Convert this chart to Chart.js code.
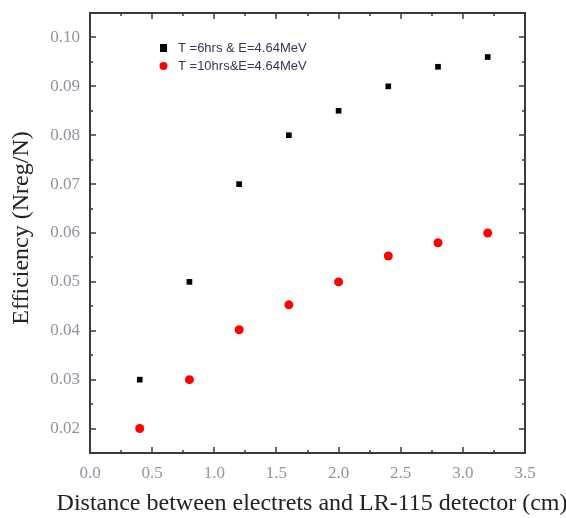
<!DOCTYPE html>
<html>
<head>
<meta charset="utf-8">
<script src="https://cdn.jsdelivr.net/npm/chart.js@4/dist/chart.umd.min.js"></script>
<style>
  html, body { margin: 0; padding: 0; background: #fff; }
  #wrap { width: 566px; height: 518px; }
</style>
</head>
<body>
<div id="wrap"><canvas id="chart" width="566" height="518"></canvas></div>
<script>
// dados
const distancias = [0.4, 0.8, 1.2, 1.6, 2.0, 2.4, 2.8, 3.2];
const efic6h = [0.030, 0.050, 0.070, 0.080, 0.085, 0.090, 0.094, 0.096];
const efic10h = [0.020, 0.030, 0.0402, 0.0453, 0.050, 0.0553, 0.058, 0.060];
const xTicks = [0.0, 0.5, 1.0, 1.5, 2.0, 2.5, 3.0, 3.5];
const yTicks = [0.02, 0.03, 0.04, 0.05, 0.06, 0.07, 0.08, 0.09, 0.10];
const nomes = ['T =6hrs & E=4.64MeV', 'T =10hrs&E=4.64MeV'];
const tituloX = 'Distance between electrets and LR-115 detector (cm)';
const tituloY = 'Efficiency (Nreg/N)';

const toPts = (ys) => distancias.map((x, i) => ({ x: x, y: ys[i] }));
const serif = '"Liberation Serif", "Times New Roman", serif';

// moldura com ticks para dentro (4 lados)
const frame = {
  id: 'frame',
  afterDraw(chart) {
    const { ctx, chartArea: a, scales: { x, y } } = chart;
    ctx.save();
    ctx.strokeStyle = '#3a3a3a';
    ctx.lineWidth = 2;
    ctx.strokeRect(a.left, a.top, a.right - a.left, a.bottom - a.top);
    ctx.lineWidth = 1.5;
    ctx.beginPath();
    for (let v = 0; v <= 3.5001; v += 0.25) {
      const px = Math.round(x.getPixelForValue(v));
      const len = (Math.round(v * 4) % 2 === 0) ? 6 : 3;
      ctx.moveTo(px, a.bottom); ctx.lineTo(px, a.bottom - len);
      ctx.moveTo(px, a.top); ctx.lineTo(px, a.top + len);
    }
    for (let v = 0.015; v <= 0.1051; v += 0.005) {
      const py = Math.round(y.getPixelForValue(v));
      if (py < a.top + 1 || py > a.bottom - 1) continue;
      const major = Math.abs(Math.round(v * 1000) % 10) === 0;
      const len = major ? 6 : 3;
      ctx.moveTo(a.left, py); ctx.lineTo(a.left + len, py);
      ctx.moveTo(a.right, py); ctx.lineTo(a.right - len, py);
    }
    ctx.stroke();
    ctx.restore();
  }
};

// legenda dentro da área + títulos dos eixos
const textos = {
  id: 'textos',
  afterDraw(chart) {
    const { ctx } = chart;
    ctx.save();
    ctx.font = '13px "Liberation Sans", Arial';
    ctx.textBaseline = 'middle';
    ctx.fillStyle = '#000';
    ctx.fillRect(160, 44, 7, 8);
    ctx.fillStyle = '#3a3550';
    ctx.fillText(nomes[0], 178, 48);
    ctx.fillStyle = '#ff0000';
    ctx.beginPath(); ctx.arc(163.5, 66, 4, 0, Math.PI * 2); ctx.fill();
    ctx.fillStyle = '#3a3550';
    ctx.fillText(nomes[1], 178, 66);

    ctx.fillStyle = '#222';
    ctx.textAlign = 'center';
    ctx.font = '24px ' + serif;
    ctx.fillText(tituloX, 312, 504);
    ctx.translate(22, 228);
    ctx.rotate(-Math.PI / 2);
    ctx.fillText(tituloY, 0, 0);
    ctx.restore();
  }
};

new Chart(document.getElementById('chart'), {
  type: 'scatter',
  data: {
    datasets: [
      { label: nomes[0], data: toPts(efic6h), pointStyle: 'rect', pointRadius: 4,
        backgroundColor: '#000', borderColor: '#000', borderWidth: 0 },
      { label: nomes[1], data: toPts(efic10h), pointStyle: 'circle', pointRadius: 4.5,
        backgroundColor: '#ff0000', borderColor: '#ff0000', borderWidth: 0 }
    ]
  },
  options: {
    responsive: false,
    animation: false,
    layout: { padding: { left: 0, top: 13, right: 41, bottom: 0 } },
    plugins: { legend: { display: false }, tooltip: { enabled: false } },
    scales: {
      x: {
        type: 'linear', min: 0, max: 3.5,
        afterBuildTicks: (s) => { s.ticks = xTicks.map(v => ({ value: v })); },
        afterFit: (s) => { s.height = 65; s.paddingLeft = 0; s.paddingRight = 0; },
        grid: { display: false, drawTicks: false },
        border: { display: false },
        ticks: { padding: 10, color: '#8f959e', font: { family: serif, size: 17 },
          callback: (v) => Number(v).toFixed(1) },
        title: { display: false }
      },
      y: {
        type: 'linear', min: 0.015, max: 0.105,
        afterBuildTicks: (s) => { s.ticks = yTicks.map(v => ({ value: v })); },
        afterFit: (s) => { s.width = 90; s.paddingTop = 0; s.paddingBottom = 0; },
        grid: { display: false, drawTicks: false },
        border: { display: false },
        ticks: { padding: 10, color: '#8f959e', font: { family: serif, size: 17 },
          callback: (v) => Number(v).toFixed(2) },
        title: { display: false }
      }
    }
  },
  plugins: [frame, textos]
});
</script>
</body>
</html>
